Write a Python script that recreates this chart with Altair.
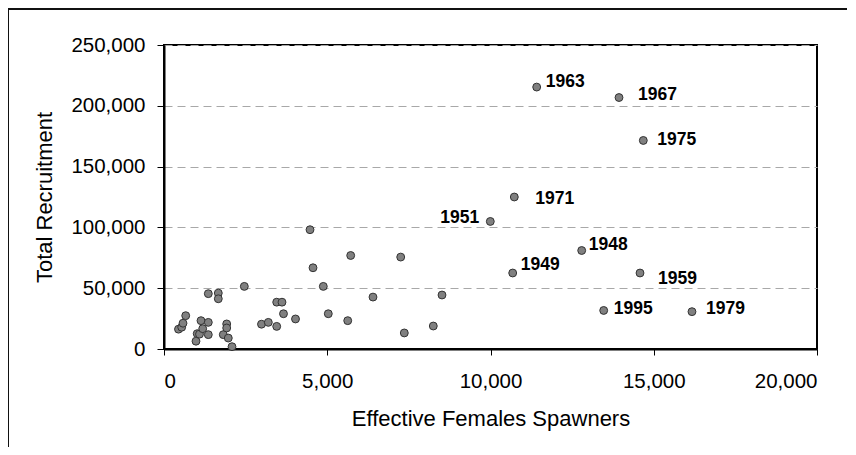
import altair as alt
import pandas as pd

# Effective female spawners (x) and total recruitment (y)
spawners = [444, 542, 582, 665,
            980, 1017, 1087, 1133, 1185, 1357, 1357,
            1816, 1920, 1920, 1969, 2083,
            1357, 1663, 1663, 2460,
            2986, 3195, 3452, 3452, 3614, 3660, 4028,
            4472, 4564, 4879, 5032, 5627, 5718, 6401, 7250, 7360, 8248, 8515,
            11415, 13936, 14680, 10729, 9994, 12793, 10680, 14579, 13467, 16171]
recruits = [16300, 17900, 21200, 27400,
            6400, 12600, 12200, 23300, 16700, 21900, 11800,
            11800, 20600, 17300, 9000, 1900,
            45500, 46000, 41300, 51500,
            20400, 21900, 18600, 38500, 38500, 29000, 24700,
            98100, 66800, 51500, 29000, 23300, 76900, 42700, 75600, 13200, 18900, 44400,
            215400, 206800, 171500, 125000, 104900, 81000, 62500, 62500, 31700, 30700]
years = [""] * 38 + ["1963", "1967", "1975", "1971", "1951", "1948", "1949",
                     "1959", "1995", "1979"]

x_ticks = [0, 5000, 10000, 15000, 20000]
y_ticks = [0, 50000, 100000, 150000, 200000, 250000]

df = pd.DataFrame({"spawners": spawners, "recruits": recruits, "year": years})

# label placement (pixel offsets from the point: dx, dy, align)
label_offsets = {
    "1963": (9, -5, "left"), "1967": (19, -3, "left"), "1975": (14, 0, "left"),
    "1971": (21, 2, "left"), "1951": (-11, -3, "right"), "1948": (7, -6, "left"),
    "1949": (8, -8, "left"), "1959": (18, 6, "left"), "1995": (10, -1, "left"),
    "1979": (14, -3, "left"),
}

FONT = "Liberation Sans"

xenc = alt.X("spawners:Q",
             scale=alt.Scale(domain=[0, 20000], nice=False),
             axis=alt.Axis(values=x_ticks, format=",.0f", grid=False,
                           title="Effective Females Spawners",
                           titleX=326.5, titleY=76, titleBaseline="alphabetic",
                           titleFontSize=22, titleFontWeight="normal",
                           titleFont=FONT, titleColor="#000",
                           labelFont=FONT, labelFontSize=20.5, labelColor="#000",
                           labelPadding=16, tickSize=6, tickColor="#000",
                           domainColor="#000", domainWidth=2))
yenc = alt.Y("recruits:Q",
             scale=alt.Scale(domain=[0, 250000], nice=False),
             axis=alt.Axis(values=y_ticks, format=",.0f", grid=True,
                           gridColor="#a8a8a8", gridDash=[8, 5], gridWidth=1,
                           title="Total Recruitment",
                           titleX=-120, titleY=152, titleAngle=270,
                           titleAlign="center", titleBaseline="middle",
                           titleFontSize=22, titleFontWeight="normal",
                           titleFont=FONT, titleColor="#000",
                           labelFont=FONT, labelFontSize=20.5, labelColor="#000",
                           labelPadding=12, tickSize=7, tickColor="#000",
                           domainColor="#000", domainWidth=2))

base = alt.Chart(df)
points = base.mark_point(filled=True, shape="circle", size=62, fill="#808080",
                         stroke="#333333", strokeWidth=1, opacity=1).encode(
    x=xenc, y=yenc)

layers = [points]
for yr, (dx, dy, al) in label_offsets.items():
    layers.append(
        base.transform_filter(alt.datum.year == yr).mark_text(
            font=FONT, fontSize=17.5, fontWeight="bold", color="#000",
            align=al, baseline="middle", dx=dx, dy=dy).encode(
            x="spawners:Q", y="recruits:Q", text="year:N"))

frame_left = alt.Chart(df).mark_rule(color="#111", strokeWidth=2).encode(
    x=alt.value(-156), y=alt.value(-36), y2=alt.value(420))
frame_top = alt.Chart(df).mark_rule(color="#111", strokeWidth=2).encode(
    x=alt.value(-156), x2=alt.value(720), y=alt.value(-36))
layers += [frame_left, frame_top]

chart = alt.layer(*layers).properties(
    width=653, height=304,
    autosize=alt.AutoSizeParams(type="none"),
    padding={"left": 156, "top": 37, "right": 30, "bottom": 98},
    background="white",
).configure_view(stroke="#000", strokeWidth=2)

chart.save("out.html", embed_options={"renderer": "svg", "actions": False})
